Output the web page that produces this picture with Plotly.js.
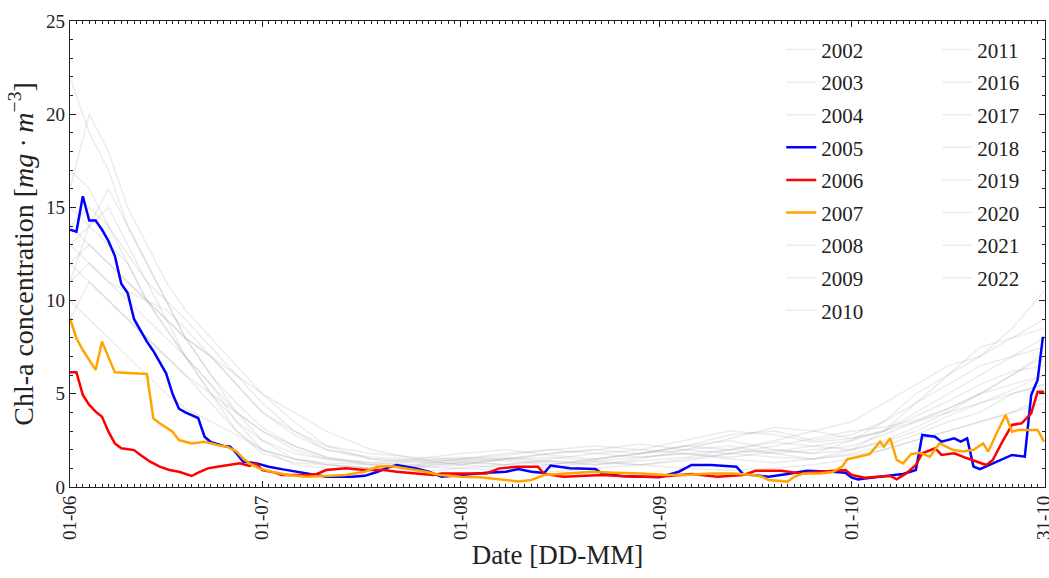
<!DOCTYPE html>
<html>
<head>
<meta charset="utf-8">
<script src="https://cdn.plot.ly/plotly-3.0.1.min.js"></script>
<style>html,body{margin:0;padding:0;background:#fff;}#chart{width:1049px;height:578px;}</style>
</head>
<body>
<div id="chart"></div>
<script>
// Day offsets are counted from 1 June.
const SEASON_START = Date.UTC(2005, 5, 1);

// ---- Highlighted years ----
const days2005 = [0,1,2,3,4,5,6,7,8,9,10,11,12,13,15,16,17,18,20,21,22,24,25,26,27,29,31,33,36,37,40,44,46,48,50,51,54,56,58,61,65,68,70,72,74,75,78,82,83,86,92,95,97,100,104,105,109,112,115,119,121,122,123,124,128,130,132,133,135,136,138,139,140,141,142,144,146,147,149,150,151,151.8,152];
const chl2005  = [13.8,13.7,15.6,14.3,14.3,13.8,13.2,12.4,10.9,10.4,9.0,8.4,7.8,7.3,6.1,5.0,4.2,4.0,3.7,2.7,2.4,2.2,2.16,1.8,1.36,1.28,1.09,0.96,0.8,0.75,0.55,0.55,0.6,0.82,1.09,1.18,1.0,0.82,0.55,0.64,0.77,0.82,0.96,0.82,0.75,1.15,1.0,0.96,0.73,0.59,0.52,0.82,1.18,1.18,1.09,0.7,0.55,0.7,0.87,0.82,0.77,0.5,0.41,0.45,0.59,0.7,0.91,2.79,2.7,2.43,2.61,2.43,2.61,1.09,0.96,1.27,1.54,1.72,1.63,4.94,5.74,8.0,8.0];

const days2006 = [0,1,2,3,4,5,6,7,8,10,11,12.5,14,15.5,17,19,20,21.5,23,25,26.5,28,29,30,32,33,37,38.5,40,43,46,49,51,54,56.7,58,65,67,70,73,74,77,83,88,92,97,101,105,107,111,114,117,120,121,122,124,126,128,129,130.5,132,133,135,136,138,140,143,144,145.5,147,148.5,150,151,152];
const chl2006  = [6.15,6.15,4.94,4.4,4.04,3.77,2.97,2.34,2.08,1.98,1.72,1.36,1.09,0.91,0.82,0.59,0.77,1.0,1.09,1.18,1.27,1.13,1.27,0.91,0.77,0.64,0.64,0.7,0.91,1.0,0.91,0.91,0.82,0.73,0.64,0.73,0.73,1.0,1.09,1.09,0.7,0.55,0.64,0.55,0.55,0.7,0.55,0.64,0.87,0.87,0.73,0.82,0.91,0.91,0.64,0.5,0.55,0.59,0.41,0.73,1.18,1.81,2.08,1.72,1.81,1.54,1.18,1.45,2.43,3.33,3.42,3.95,5.11,5.11];

const days2007 = [0,1,2,3,4,5,6,7,12,13,14,16,17,19,21,23,24.5,26,27,28,29.5,31.5,34,37,40,43,46,48,50,52.5,55.5,57.7,61,64,67,70,72,74,77.5,81.5,85,89,93,96,100,103.5,106.5,108,109,112,113,114.5,117,119,120.5,121.3,122.7,124.8,126.4,127,128,129,130,131.3,132.6,134.2,135.7,137.8,139.4,141,142.5,143.3,144.6,146,147,148,151,152];
const chl2007  = [9.05,7.98,7.35,6.8,6.28,7.8,7.0,6.15,6.06,3.68,3.42,2.97,2.52,2.34,2.43,2.25,2.16,1.9,1.54,1.27,1.0,0.82,0.64,0.55,0.59,0.64,0.82,1.09,1.13,1.0,0.82,0.64,0.55,0.52,0.41,0.3,0.38,0.64,0.73,0.82,0.77,0.73,0.64,0.64,0.73,0.73,0.64,0.55,0.38,0.29,0.55,0.73,0.73,0.8,1.09,1.5,1.6,1.77,2.43,2.16,2.61,1.45,1.27,1.77,1.84,1.63,2.34,1.98,1.9,2.0,2.34,1.9,2.88,3.86,2.97,3.06,3.06,2.43];

// ---- Background years (sampled on a common set of days) ----
const daysGrey = [0,3,6,9,12,15,18,22,26,30,35,40,47,54,61,68,75,82,89,96,103,110,116,122,127,132,137,142,147,152];
const chl2002 = [22,19,17,14,12,10,8,6,4,2.5,1.5,1.2,1.0,1.1,1.3,1.2,1.0,1.4,1.6,1.8,1.5,1.3,1.5,2.0,3.0,4.5,6.0,7.0,8.5,10.5];
const chl2003 = [16,20,18,15,13,11,9.5,8,6.5,5,3.5,2.2,1.5,1.4,1.2,1.5,1.8,2.0,1.8,2.2,2.5,2.0,1.8,2.5,3.5,5,6,7.5,8,9];
const chl2004 = [13,12,11,10,9,8,7,5.5,3.5,2.0,1.2,1.0,0.9,0.8,1.0,0.9,0.8,1.0,1.2,1.0,0.9,1.0,1.2,1.5,2.0,2.5,3.0,3.5,4.0,4.5];
const chl2008 = [11,14,13,12,10,8.5,7,5,3,1.8,1.3,1.2,1.0,1.2,1.5,1.4,1.2,1.5,1.8,2.2,2.8,3.0,2.5,2.8,3.5,4.5,5.5,6.5,7,7.5];
const chl2009 = [15,14,15,13,11,9,7,5,3.5,2.5,1.8,1.5,1.2,1.0,1.2,1.5,1.3,1.2,1.4,1.6,2.0,2.4,2.2,2.0,2.5,3.2,4.0,5.0,6.0,7.0];
const chl2010 = [10,9,8,7,6,5,4.2,3.5,2.8,2.0,1.5,1.3,1.2,1.4,1.6,1.5,1.8,2.0,2.3,2.0,1.8,2.2,2.6,3.0,3.2,3.6,4.2,5.0,5.5,6];
const chl2011 = [14,15,14,12.5,11,10,9,7.5,6,4.5,3,2,1.5,1.3,1.5,1.8,2.0,1.8,1.6,1.8,2.0,2.5,3,3.5,4.5,5.5,6.5,7,8,8.5];
const chl2016 = [12,13,12,11,10,9,8,7,6,5,4,3,2,1.5,1.2,1.0,1.2,1.5,1.8,2.0,2.2,1.8,1.5,1.8,2.2,2.8,3.5,4,5,5.5];
const chl2017 = [9,11,10,9,8,7,6,4.5,3,2,1.5,1.2,1.0,1.1,1.3,1.5,1.6,1.4,1.2,1.4,1.8,2.0,1.8,2.0,2.4,3.0,3.8,4.5,5.2,6];
const chl2018 = [17,16,14,12,10,8.5,7,5.5,4,3,2,1.5,1.3,1.2,1.4,1.6,1.4,1.2,1.5,2.0,2.6,3.2,3.0,2.6,3.0,4.0,5.0,6.0,7.0,8.0];
const chl2019 = [13,14,16,14,12,10,8,6,4.5,3.2,2.2,1.6,1.3,1.5,1.8,2.0,1.7,1.5,1.8,2.2,2.0,1.8,2.0,2.2,2.8,3.5,4.2,5.0,6.0,7.2];
const chl2020 = [11,12,11,10.5,10,9,8,7,5.5,4,2.8,2.0,1.6,1.5,1.4,1.2,1.5,1.8,2.0,2.5,3.0,2.8,2.4,2.6,3.0,3.8,4.6,5.5,6.2,6.5];
const chl2021 = [14,13,12,11,10,9.5,8.5,7,5.5,4,3,2.2,1.8,1.6,1.5,1.7,2.0,2.2,2.0,1.8,1.6,1.9,2.2,2.5,3,3.5,4,4.5,5,5.5];
const chl2022 = [12,11,10,9,8,7,6,5,4,3,2.2,1.6,1.2,1.1,1.0,1.2,1.4,1.3,1.2,1.5,1.8,1.6,1.5,1.7,2.0,2.5,3.0,3.5,4.0,4.8];

const tickDays  = [0,30,61,92,122,152];
const tickText  = ['01-06','01-07','01-08','01-09','01-10','31-10'];

const greyYears = [
  ['2002', chl2002], ['2003', chl2003], ['2004', chl2004], ['2008', chl2008],
  ['2009', chl2009], ['2010', chl2010], ['2011', chl2011], ['2016', chl2016],
  ['2017', chl2017], ['2018', chl2018], ['2019', chl2019], ['2020', chl2020],
  ['2021', chl2021], ['2022', chl2022]
];
const highlighted = [
  ['2005', days2005, chl2005, '#0000ff'],
  ['2006', days2006, chl2006, '#ff0000'],
  ['2007', days2007, chl2007, '#ffa500']
];

function toDate(d) {
  return new Date(SEASON_START + d * 86400000).toISOString().slice(0, 19).replace('T', ' ');
}

const traces = [];
greyYears.forEach(([yr, vals]) => {
  traces.push({
    x: daysGrey.map(toDate), y: vals, type: 'scatter', mode: 'lines', name: yr,
    line: {color: 'rgba(160,160,170,0.2)', width: 1.5},
    legendgroup: yr, legendrank: +yr,
    legend: (+yr >= 2011) ? 'legend2' : 'legend'
  });
});
highlighted.forEach(([yr, ds, vals, col]) => {
  traces.push({
    x: ds.map(toDate), y: vals, type: 'scatter', mode: 'lines', name: yr,
    line: {color: col, width: 2.5},
    legendgroup: yr, legendrank: +yr, legend: 'legend'
  });
});

const FONT = 'Liberation Serif, Times New Roman, serif';
const legendBase = {
  bgcolor: 'rgba(0,0,0,0)', borderwidth: 0,
  font: {family: FONT, size: 21, color: '#222'},
  traceorder: 'grouped', tracegroupgap: 2.3,
  xanchor: 'left', yanchor: 'top'
};

const layout = {
  width: 1049, height: 578,
  margin: {l: 70, r: 4, t: 21, b: 91},
  paper_bgcolor: '#fff', plot_bgcolor: '#fff',
  font: {family: FONT, color: '#222'},
  showlegend: true,
  legend: Object.assign({}, legendBase, {x: 0.7295, y: 0.982}),
  legend2: Object.assign({}, legendBase, {x: 0.8895, y: 0.982}),
  xaxis: {
    type: 'date',
    range: [toDate(0), toDate(152.15)],
    tickvals: tickDays.map(toDate), ticktext: tickText,
    tickangle: -90, tickfont: {family: FONT, size: 19, color: '#222'},
    ticklabeloverflow: 'allow',
    ticks: 'inside', ticklen: 6, tickcolor: '#222', tickwidth: 1,
    minor: {dtick: 86400000, ticks: 'inside', ticklen: 3, tickcolor: '#222', tickwidth: 1, showgrid: false},
    showline: true, linecolor: '#222', linewidth: 1.2, mirror: 'ticks',
    showgrid: false, zeroline: false,
    title: {text: 'Date [DD-MM]', font: {family: FONT, size: 27, color: '#222'}, standoff: 6}
  },
  yaxis: {
    range: [0, 25], tickvals: [0,5,10,15,20,25],
    tickfont: {family: FONT, size: 19, color: '#222'},
    ticks: 'inside', ticklen: 6, tickcolor: '#222', tickwidth: 1,
    minor: {dtick: 1, ticks: 'inside', ticklen: 3, tickcolor: '#222', tickwidth: 1, showgrid: false},
    showline: true, linecolor: '#222', linewidth: 1.2, mirror: 'ticks',
    showgrid: false, zeroline: false,
    title: {text: 'Chl-a concentration [<i>mg · m</i><sup>−3</sup>]', font: {family: FONT, size: 28, color: '#222'}, standoff: 4}
  }
};

Plotly.newPlot('chart', traces, layout, {displayModeBar: false, staticPlot: true});
</script>
</body>
</html>
